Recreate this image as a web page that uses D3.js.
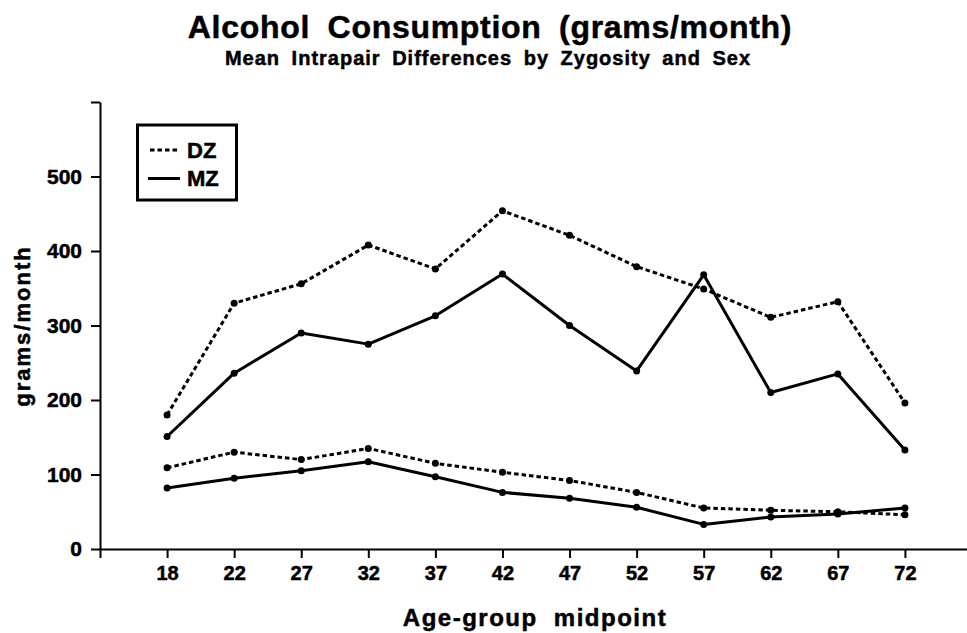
<!DOCTYPE html>
<html>
<head>
<meta charset="utf-8">
<script src="https://cdn.jsdelivr.net/npm/d3@7"></script>
<style>
    body { margin: 0; background: #fff; }
    text { font-family: "Liberation Sans", Arial, Helvetica, sans-serif; font-weight: bold; fill: #000; stroke: #000; stroke-width: 0.5px; }
</style>
</head>
<body>
<svg id="chart"></svg>
<script>
// Age-group midpoints (categories on the x axis)
const ages = ["18", "22", "27", "32", "37", "42", "47", "52", "57", "62", "67", "72"];

// Mean intrapair differences, grams/month
const dzUpper = [180, 330, 356, 408, 376, 454, 421, 379, 349, 311, 332, 196];
const mzUpper = [151, 236, 290, 275, 313, 369, 300, 239, 368, 210, 235, 133];
const dzLower = [109, 130, 120, 135, 115, 103, 92, 76, 55, 52, 50, 46];
const mzLower = [82, 95, 105, 117, 97, 76, 68, 56, 33, 43, 47, 55];

const yTicks = [0, 100, 200, 300, 400, 500, 600];

const series = [
    { zyg: "DZ", values: dzUpper },
    { zyg: "MZ", values: mzUpper },
    { zyg: "DZ", values: dzLower },
    { zyg: "MZ", values: mzLower }
];

const width = 967;
const height = 633;
const dash = "4.5,3";

const svg = d3.select("#chart")
    .attr("width", width)
    .attr("height", height);

// Scales
const xScale = d3.scalePoint()
    .domain(ages)
    .range([100, 972])
    .padding(1);

const yScale = d3.scaleLinear()
    .domain([0, 600])
    .range([549, 102]);

// x axis
const xAxis = svg.append("g")
    .attr("transform", "translate(0,549)")
    .call(d3.axisBottom(xScale).tickSize(9).tickSizeOuter(9).tickPadding(8));
xAxis.selectAll("path, line").attr("stroke", "#000").attr("stroke-width", 2);
xAxis.selectAll("text").style("font-size", "20px");

// y axis
const yAxis = svg.append("g")
    .attr("transform", "translate(100,0)")
    .call(d3.axisLeft(yScale)
        .tickValues(yTicks)
        .tickSize(9)
        .tickSizeOuter(0)
        .tickPadding(9)
        .tickFormat(d => d === 600 ? "" : d));
yAxis.selectAll("path, line").attr("stroke", "#000").attr("stroke-width", 2);
yAxis.selectAll("text").style("font-size", "21px");

// Lines
const line = d3.line()
    .x((d, i) => xScale(ages[i]))
    .y(d => yScale(d));

series.forEach(s => {
    svg.append("path")
        .datum(s.values)
        .attr("fill", "none")
        .attr("stroke", "#000")
        .attr("stroke-width", 3)
        .attr("stroke-linejoin", "round")
        .attr("stroke-dasharray", s.zyg === "DZ" ? dash : null)
        .attr("d", line);

    svg.selectAll(null)
        .data(s.values)
        .enter()
        .append("circle")
        .attr("cx", (d, i) => xScale(ages[i]))
        .attr("cy", d => yScale(d))
        .attr("r", 3.5)
        .attr("fill", "#000");
});

// Titles
svg.append("text")
    .attr("x", 490)
    .attr("y", 38)
    .attr("text-anchor", "middle")
    .style("font-size", "32px")
    .style("letter-spacing", "0.7px")
    .style("word-spacing", "8px")
    .text("Alcohol Consumption (grams/month)");

svg.append("text")
    .attr("x", 488)
    .attr("y", 65)
    .attr("text-anchor", "middle")
    .style("font-size", "20px")
    .style("letter-spacing", "1px")
    .style("word-spacing", "5px")
    .text("Mean Intrapair Differences by Zygosity and Sex");

// Axis titles
svg.append("text")
    .attr("x", 535)
    .attr("y", 626)
    .attr("text-anchor", "middle")
    .style("font-size", "24px")
    .style("letter-spacing", "1.5px")
    .style("word-spacing", "8px")
    .text("Age-group midpoint");

svg.append("text")
    .attr("transform", "translate(30,326) rotate(-90)")
    .attr("text-anchor", "middle")
    .style("font-size", "22px")
    .style("letter-spacing", "2px")
    .text("grams/month");

// Legend
const legend = svg.append("g");
legend.append("rect")
    .attr("x", 137.5)
    .attr("y", 125)
    .attr("width", 99)
    .attr("height", 75)
    .attr("fill", "#fff")
    .attr("stroke", "#000")
    .attr("stroke-width", 3);

const legendItems = [
    { zyg: "DZ", y: 150, x1: 150, x2: 177.5 },
    { zyg: "MZ", y: 178.5, x1: 148, x2: 180 }
];
legendItems.forEach(d => {
    legend.append("line")
        .attr("x1", d.x1)
        .attr("x2", d.x2)
        .attr("y1", d.y)
        .attr("y2", d.y)
        .attr("stroke", "#000")
        .attr("stroke-width", 3)
        .attr("stroke-dasharray", d.zyg === "DZ" ? dash : null);
    legend.append("text")
        .attr("x", 187)
        .attr("y", d.y + 7.5)
        .style("font-size", "22px")
        .text(d.zyg);
});
</script>
</body>
</html>
